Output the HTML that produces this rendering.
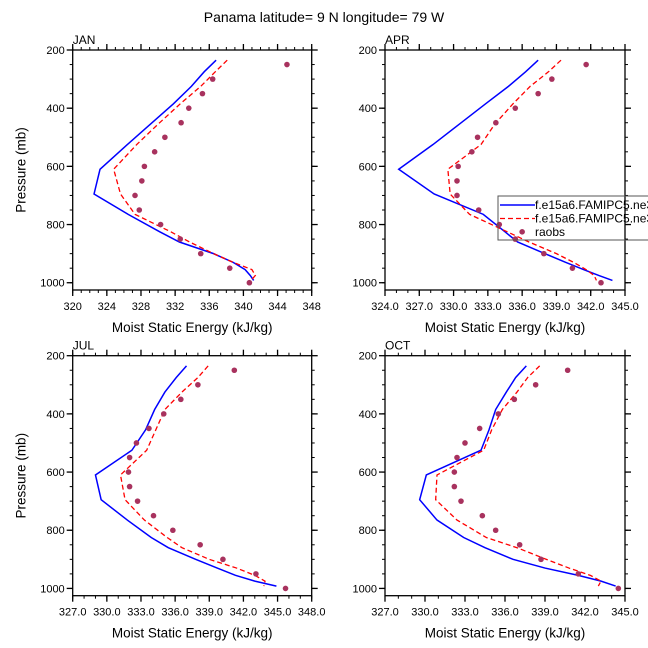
<!DOCTYPE html>
<html><head><meta charset="utf-8"><style>
html,body{margin:0;padding:0;background:#fff;width:648px;height:648px;overflow:hidden}
svg{display:block;font-family:"Liberation Sans",sans-serif}
</style></head><body>
<svg id="chart" width="648" height="648" viewBox="0 0 648 648">
<text x="324" y="22" text-anchor="middle" font-size="14">Panama  latitude= 9 N longitude= 79 W</text>
</svg>
<script>
const levels=[235,275,325,385,455,525,610,695,765,825,860,900,930,955,975,992];
const obsP=[250,300,350,400,450,500,550,600,650,700,750,800,850,900,950,1000];
const obsPApr=[250,300,350,400,450,500,550,600,650,700,750,800,825,850,900,950,1000];
const janBlue=[336.8,335.4,333.9,331.8,329.1,326.4,323.2,322.5,326.5,330.2,332.5,336.5,338.8,340.2,340.8,341.2];
const janRed=[338.1,336.7,335.0,332.6,330.0,327.5,324.8,325.6,327.3,331.5,333.7,336.5,338.8,341.0,341.4,340.9];
const janObs=[345.1,336.4,335.2,333.6,332.7,330.8,329.6,328.4,328.1,327.3,327.8,330.3,332.6,335.0,338.4,340.7];
const aprBlue=[337.4,336.3,334.8,332.8,330.5,328.2,325.2,328.3,332.6,334.5,335.6,338.0,339.8,341.4,342.7,343.9];
const aprRed=[339.4,338.3,336.7,335.2,333.6,332.4,329.5,329.7,331.4,334.7,336.6,339.0,340.5,341.6,342.3,342.5];
const aprObs=[341.6,338.6,337.4,335.4,333.7,332.1,331.6,330.4,330.3,330.3,332.2,334.0,336.0,335.4,337.9,340.4,342.9];
const julBlue=[337.0,336.1,335.1,334.2,333.4,332.2,329.0,329.5,331.8,333.9,335.4,337.8,339.7,341.3,343.0,344.9];
const julRed=[338.9,338.0,336.6,335.1,334.3,333.5,331.2,331.6,333.3,335.3,336.6,339.0,341.4,343.0,343.9,343.8];
const julObs=[341.2,338.0,336.5,335.0,333.7,332.6,332.0,331.9,332.0,332.7,334.1,335.8,338.2,340.2,343.1,345.7];
const octBlue=[337.6,336.8,336.1,335.3,334.8,334.2,330.1,329.6,330.9,332.9,334.5,336.6,339.0,341.5,343.2,344.3];
const octRed=[338.6,337.7,336.9,335.8,335.0,334.4,330.9,330.8,332.4,334.6,336.9,339.1,340.8,342.4,343.2,343.0];
const octObs=[340.7,338.3,336.7,335.5,334.1,333.0,332.4,332.2,332.2,332.7,334.3,335.3,337.1,338.7,341.5,344.5];
const janTicks=[320,324,328,332,336,340,344,348];
const aprTicks=[324,327,330,333,336,339,342,345];
const julTicks=[327,330,333,336,339,342,345,348];
const octTicks=[327,330,333,336,339,342,345];
const yTicks=[200,400,600,800,1000];

const NS='http://www.w3.org/2000/svg';
const svg=document.getElementById('chart');
function mk(tag,attrs,parent){const e=document.createElementNS(NS,tag);for(const k in attrs)e.setAttribute(k,attrs[k]);(parent||svg).appendChild(e);return e;}
const pMin=200,pMax=1025;
function panel(id,label,L,R,T,B,ticks,minorStep,dec,blue,red,obs,op,showY){
  const g=mk('g',{});
  
  
  const xmin=ticks[0],xmax=ticks[ticks.length-1];
  const xs=v=>L+(v-xmin)/(xmax-xmin)*(R-L);
  const ys=p=>T+(p-pMin)/(pMax-pMin)*(B-T);
  // ticks
  for(let v=xmin;v<=xmax+1e-6;v+=minorStep){const x=xs(v);
    mk('line',{x1:x,x2:x,y1:B,y2:B+3,stroke:'#000','stroke-width':1},g);
    mk('line',{x1:x,x2:x,y1:T,y2:T-3,stroke:'#000','stroke-width':1},g);}
  ticks.forEach(v=>{const x=xs(v);
    mk('line',{x1:x,x2:x,y1:B,y2:B+6,stroke:'#000','stroke-width':1.3},g);
    mk('line',{x1:x,x2:x,y1:T,y2:T-6,stroke:'#000','stroke-width':1.3},g);
    const t=mk('text',{x:x,y:B+20,'text-anchor':'middle','font-size':11},g);
    
    
    t.textContent=dec?v.toFixed(1):String(v);});
  for(let p=250;p<=1000;p+=50){const y=ys(p);
    mk('line',{x1:L,x2:L-3,y1:y,y2:y,stroke:'#000','stroke-width':1},g);
    mk('line',{x1:R,x2:R+3,y1:y,y2:y,stroke:'#000','stroke-width':1},g);}
  yTicks.forEach(p=>{const y=ys(p);
    mk('line',{x1:L,x2:L-6,y1:y,y2:y,stroke:'#000','stroke-width':1.3},g);
    mk('line',{x1:R,x2:R+6,y1:y,y2:y,stroke:'#000','stroke-width':1.3},g);
    const t=mk('text',{x:L-8,y:y+4,'text-anchor':'end','font-size':11},g);
    
    
    t.textContent=String(p);});
  mk('rect',{x:L,y:T,width:R-L,height:B-T,fill:'none',stroke:'#000','stroke-width':1.3},g);
  const lb=mk('text',{x:L,y:T-6,'font-size':12},g);
  
  
  lb.textContent=label;
  const xt=mk('text',{x:(L+R)/2,y:B+42,'text-anchor':'middle','font-size':13.5},g);
  
  
  xt.textContent='Moist Static Energy (kJ/kg)';
  if(showY){const yt=mk('text',{x:0,y:0,'text-anchor':'middle','font-size':13.5,transform:`translate(${L-47},${(T+B)/2}) rotate(-90)`},g);
    
    
    yt.textContent='Pressure (mb)';}
  const bl=mk('polyline',{points:levels.map((p,i)=>xs(blue[i])+','+ys(p)).join(' '),fill:'none',stroke:'#0000ff','stroke-width':1.5},g);
  
  
  const rl=mk('polyline',{points:levels.map((p,i)=>xs(red[i])+','+ys(p)).join(' '),fill:'none',stroke:'#ff0000','stroke-width':1.3,'stroke-dasharray':'5,3'},g);
  
  
  obs.forEach((v,i)=>{const c=mk('circle',{cx:xs(v),cy:ys(op[i]),r:2.8,fill:'#a8325e'},g);
    
    });
}
panel('jan','JAN',72.7,311.7,50,290,janTicks,1,false,janBlue,janRed,janObs,obsP,true);
panel('apr','APR',385,625,50,290,aprTicks,1,true,aprBlue,aprRed,aprObs,obsPApr,false);
panel('jul','JUL',72.7,311.7,355.7,595.7,julTicks,1,true,julBlue,julRed,julObs,obsP,true);
panel('oct','OCT',385,625,355.7,595.7,octTicks,1,true,octBlue,octRed,octObs,obsP,false);
// legend
const lg=mk('g',{});


mk('rect',{x:498,y:196,width:160,height:44,fill:'none',stroke:'#555','stroke-width':1},lg);
mk('line',{x1:500,x2:535,y1:205,y2:205,stroke:'#0000ff','stroke-width':1.5},lg);
mk('line',{x1:500,x2:535,y1:218.5,y2:218.5,stroke:'#ff0000','stroke-width':1.3,'stroke-dasharray':'5,3'},lg);
[['f.e15a6.FAMIPC5.ne30',209],['f.e15a6.FAMIPC5.ne30',222.5],['raobs',236]].forEach(([s,y])=>{
  const t=mk('text',{x:535,y:y,'font-size':12},lg);
  
  
  t.textContent=s;});
</script>
</body></html>
